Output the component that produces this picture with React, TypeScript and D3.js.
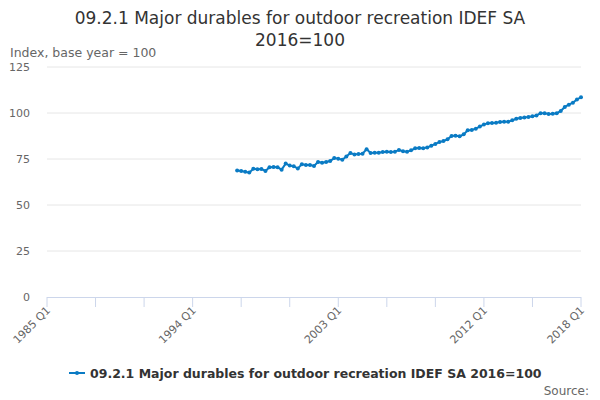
import React from "react";
import * as d3 from "d3";

const values = [68.7,68.5,68.1,67.6,69.7,69.4,69.6,68.5,70.5,70.7,70.5,69.2,72.5,71.4,71.0,69.9,72.1,71.7,71.7,71.2,73.4,73.0,73.4,73.9,75.5,75.2,74.6,76.4,78.3,77.4,77.7,77.9,80.3,78.3,78.4,78.4,78.8,79.0,78.8,79.0,79.9,79.2,79.0,79.7,80.8,81.0,80.8,81.3,82.2,83.2,84.2,84.8,85.7,87.5,87.7,87.3,88.4,90.6,90.8,91.5,92.6,93.8,94.4,94.6,94.7,95.1,95.3,95.3,96.0,96.9,97.3,97.6,97.8,98.2,98.7,99.8,99.8,99.5,99.6,99.8,101.1,103.3,104.5,105.6,107.4,108.5];
const startIndex = 1996 * 4 + 3; // 1996 Q4
const yTicks = [0, 25, 50, 75, 100, 125];
const xLabels = ["1985 Q1", "1994 Q1", "2003 Q1", "2012 Q1", "2018 Q1"];
const tickYears = d3.range(1985, 2019, 3);
const seriesName = "09.2.1 Major durables for outdoor recreation IDEF SA 2016=100";

export default function App() {
  const x = d3.scaleLinear().domain([1985 * 4, 2018 * 4]).range([47, 581]);
  const y = d3.scaleLinear().domain([0, 125]).range([297, 67]);
  const pts = values.map((v, i) => [x(startIndex + i), y(v)] as [number, number]);
  const line = d3.line()(pts) || "";
  const font = "'DejaVu Sans', sans-serif";
  const col = "#0a7bc4";
  return (
    <svg width={600} height={400} style={{ position: "absolute", left: 0, top: 0, fontFamily: font }}>
      <rect width={600} height={400} fill="#fff" />
      <text x={300} y={24} textAnchor="middle" fontSize={17} fill="#333">09.2.1 Major durables for outdoor recreation IDEF SA</text>
      <text x={300} y={46} textAnchor="middle" fontSize={17} fill="#333">2016=100</text>
      <text x={10} y={57} fontSize={12.5} fill="#666">Index, base year = 100</text>
      {yTicks.map(t => (
        <g key={t}>
          {t > 0 && <line x1={47} x2={581} y1={y(t)} y2={y(t)} stroke="#e6e6e6" />}
          <text x={30} y={y(t) + 4} textAnchor="end" fontSize={11} fill="#666">{t}</text>
        </g>
      ))}
      <line x1={47} x2={581} y1={297.5} y2={297.5} stroke="#ccd6eb" />
      {tickYears.map(yr => (
        <line key={yr} x1={x(yr * 4)} x2={x(yr * 4)} y1={297} y2={307} stroke="#ccd6eb" />
      ))}
      {xLabels.map(l => {
        const yr = +l.slice(0, 4);
        const px = x(yr * 4) + 4;
        return (
          <text key={l} x={px} y={311} fontSize={11} fill="#666" textAnchor="end" transform={`rotate(-45 ${px} 311)`}>{l}</text>
        );
      })}
      <path d={line} fill="none" stroke={col} strokeWidth={2} />
      {pts.map((p, i) => <circle key={i} cx={p[0]} cy={p[1]} r={2} fill={col} />)}
      <line x1={69} x2={85} y1={373} y2={373} stroke={col} strokeWidth={2} />
      <circle cx={77} cy={373} r={2} fill={col} />
      <text x={90} y={378} fontSize={12.5} fontWeight="bold" fill="#333">{seriesName}</text>
      <text x={589} y={395} textAnchor="end" fontSize={12} fill="#666">Source:</text>
    </svg>
  );
}
